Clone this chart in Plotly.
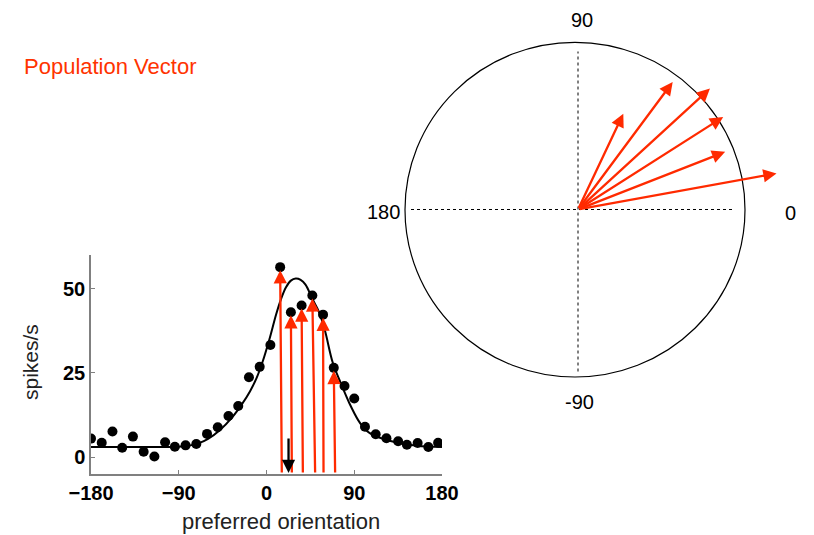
import numpy as np
import plotly.graph_objects as go

W, H = 814, 535

# ---- tuning-curve data ---------------------------------------------------
pref_deg = [-180, -169, -158, -148, -137, -126, -115, -104, -94, -83, -72, -61,
            -50, -39, -29, -18, -7, 4, 14, 25, 36, 47, 58, 69, 80, 90, 101,
            112, 123, 135, 144, 155, 166, 176]
rate = [5.5, 4.3, 7.6, 2.8, 6.1, 1.6, 0.2, 4.4, 3.1, 3.5, 3.9, 6.9,
        8.9, 12.2, 15.2, 23.7, 26.8, 33.3, 56.4, 43.0, 45.0, 48.0, 42.3, 26.5,
        21.1, 17.4, 9.0, 6.8, 5.6, 4.7, 3.7, 4.2, 3.0, 4.3]

fit_x = [-180, -150, -120, -90, -78, -68, -60, -48, -35, -25, -17, -10, -4, 3,
         10, 15, 20, 25, 30, 35, 40, 47, 54, 60, 68, 77, 85, 94, 102, 110,
         120, 136, 154, 180]
fit_y = [3.0, 3.0, 3.0, 3.1, 3.5, 4.3, 5.4, 8.0, 11.9, 15.8, 19.5, 23.6, 28.3,
         35.0, 42.5, 47.0, 50.4, 52.4, 53.0, 52.6, 51.2, 47.0, 43.0, 37.5, 28.0,
         21.4, 16.0, 11.0, 8.0, 6.5, 5.4, 4.2, 3.4, 3.0]

# neurons whose responses are shown as vectors
vec_idx = [18, 19, 20, 21, 22, 23]
vec_base_x = [15.7, 26.0, 37.3, 49.9, 58.5, 70.4]

# decoded population-vector direction
decoded_deg = 22.6
decoded_top = 6.0

# ---- polar vectors ----------------------------------------------------------
vec_angle = [64.7, 53.4, 42.5, 32.5, 21.4, 10.3]
vec_len = [27.9, 41.8, 47.1, 45.3, 41.6, 53.1]

RED = "#ff2a00"
FONT = "Liberation Sans, Arial, Helvetica, sans-serif"
ARROW = dict(arrowhead=2, arrowsize=1.15, arrowwidth=2.3)


def px(x):
    return x / W


def py(y):
    return 1 - y / H


fig = go.Figure()

# fitted tuning curve
fig.add_trace(go.Scatter(x=fit_x, y=fit_y, mode="lines",
                         line=dict(color="black", width=2, shape="spline"),
                         xaxis="x", yaxis="y", hoverinfo="skip"))
# measured responses
fig.add_trace(go.Scatter(x=pref_deg, y=rate, mode="markers",
                         marker=dict(color="black", size=10),
                         xaxis="x", yaxis="y"))

annotations = []
# red response arrows on the tuning curve (heads stop at the dot's edge)
for i, bx in zip(vec_idx, vec_base_x):
    annotations.append(dict(x=pref_deg[i], y=rate[i], ax=bx, ay=-5,
                            xref="x", yref="y", axref="x", ayref="y",
                            text="", showarrow=True, arrowcolor=RED,
                            standoff=3, startstandoff=0, **ARROW))
# decoded direction (black arrow)
annotations.append(dict(x=decoded_deg, y=-4.7, ax=decoded_deg, ay=decoded_top,
                        xref="x", yref="y", axref="x", ayref="y",
                        text="", showarrow=True, arrowcolor="black",
                        standoff=0, **ARROW))

# polar plot: reference cross
S = 3.8  # px per spikes/s in the polar panel
fig.add_trace(go.Scatter(x=[-167 / S, 155 / S], y=[0, 0], mode="lines",
                         line=dict(color="black", width=1, dash="dot"),
                         xaxis="x2", yaxis="y2", hoverinfo="skip"))
fig.add_trace(go.Scatter(x=[0, 0], y=[-162 / S, 158 / S], mode="lines",
                         line=dict(color="black", width=1, dash="dot"),
                         xaxis="x2", yaxis="y2", hoverinfo="skip"))

for ang, ln in zip(vec_angle, vec_len):
    t = np.deg2rad(ang)
    annotations.append(dict(x=ln * np.cos(t), y=ln * np.sin(t), ax=0, ay=0,
                            xref="x2", yref="y2", axref="x2", ayref="y2",
                            text="", showarrow=True, arrowcolor=RED,
                            standoff=0, startstandoff=0, **ARROW))

# polar direction labels
for txt, x, y in [("90", 582, 20), ("-90", 579, 402), ("180", 383, 212),
                  ("0", 790, 213)]:
    annotations.append(dict(x=px(x), y=py(y), xref="paper", yref="paper",
                            text=txt, showarrow=False,
                            font=dict(family=FONT, size=20, color="black"),
                            xanchor="center", yanchor="middle"))

# titles
annotations.append(dict(x=px(22), y=py(67), xref="paper", yref="paper",
                        text="Population Vector", showarrow=False,
                        font=dict(family=FONT, size=22, color="#ff3300"),
                        xanchor="left", yanchor="middle"))
annotations.append(dict(x=px(281), y=py(521), xref="paper", yref="paper",
                        text="preferred orientation", showarrow=False,
                        font=dict(family=FONT, size=22, color="#222222"),
                        xanchor="center", yanchor="middle"))
annotations.append(dict(x=px(30), y=py(362), xref="paper", yref="paper",
                        text="spikes/s", showarrow=False, textangle=-90,
                        font=dict(family=FONT, size=21, color="#222222"),
                        xanchor="center", yanchor="middle"))

shapes = [dict(type="circle", xref="x2", yref="y2",
               x0=-173 / S, x1=167 / S, y0=-167.5 / S, y1=167.2 / S,
               line=dict(color="black", width=1.2))]

tickfont = dict(family=FONT, size=20, color="black", weight="bold")
fig.update_layout(
    template="none",
    width=W, height=H,
    margin=dict(l=0, r=0, t=0, b=0, pad=0),
    paper_bgcolor="white", plot_bgcolor="rgba(0,0,0,0)",
    showlegend=False,
    xaxis=dict(domain=[px(91), px(442)], range=[-180, 180],
               tickvals=[-180, -90, 0, 90, 180], showgrid=False,
               zeroline=False, showline=True, linecolor="#808080",
               linewidth=1.5, ticks="inside", ticklen=4,
               tickcolor="#808080", tickfont=tickfont, anchor="y",
               automargin=False),
    yaxis=dict(domain=[py(474), py(255)], range=[-5, 60],
               tickvals=[0, 25, 50], showgrid=False, zeroline=False,
               showline=True, linecolor="#808080", linewidth=1.5,
               ticks="inside", ticklen=4, tickcolor="#808080",
               tickfont=tickfont, anchor="x", automargin=False),
    xaxis2=dict(domain=[px(378), px(778)], range=[-200 / S, 200 / S],
                visible=False, anchor="y2", automargin=False),
    yaxis2=dict(domain=[py(409.5), py(9.5)], range=[-200 / S, 200 / S],
                visible=False, anchor="x2", automargin=False),
    annotations=annotations,
    shapes=shapes,
)

fig.write_html("out.html")
